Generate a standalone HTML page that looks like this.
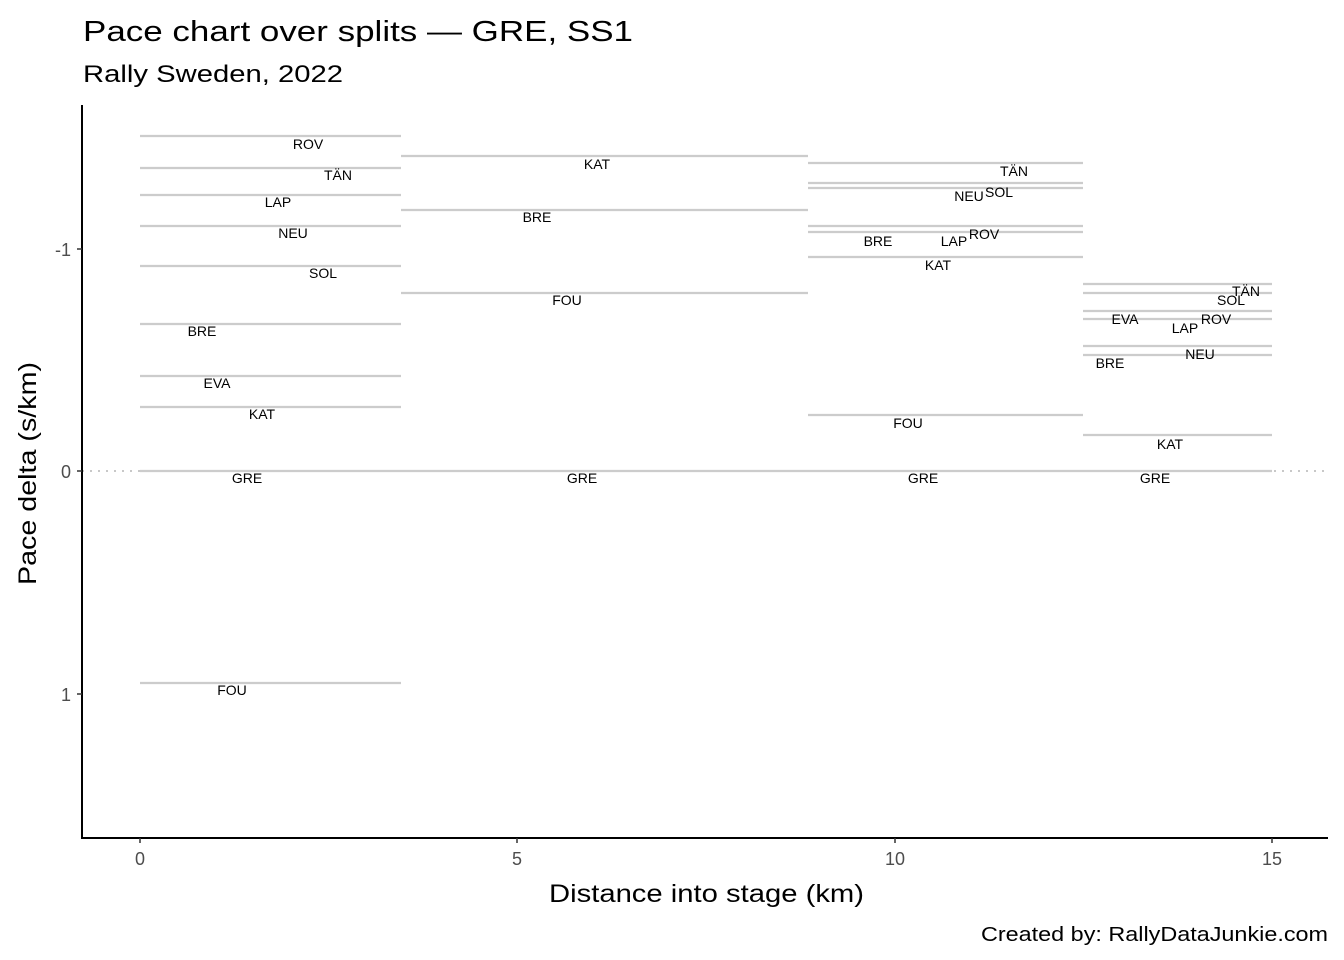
<!DOCTYPE html>
<html><head><meta charset="utf-8"><style>body{margin:0;background:#fff}svg{display:block;font-family:"Liberation Sans",sans-serif}</style></head>
<body>
<svg width="1344" height="960" xmlns="http://www.w3.org/2000/svg">
<rect width="1344" height="960" fill="#fff"/>
<text x="83" y="41" font-size="29" fill="#000" textLength="550" lengthAdjust="spacingAndGlyphs">Pace chart over splits — GRE, SS1</text>
<text x="83" y="82" font-size="24" fill="#000" textLength="260" lengthAdjust="spacingAndGlyphs">Rally Sweden, 2022</text>
<line x1="82" y1="471" x2="1328" y2="471" stroke="#c8c8c8" stroke-width="2" stroke-dasharray="2,6"/>
<g stroke="#cccccc" stroke-width="2.2">
<line x1="140" x2="401" y1="136" y2="136"/><line x1="140" x2="401" y1="168" y2="168"/>
<line x1="140" x2="401" y1="195" y2="195"/><line x1="140" x2="401" y1="226" y2="226"/>
<line x1="140" x2="401" y1="266" y2="266"/><line x1="140" x2="401" y1="324" y2="324"/>
<line x1="140" x2="401" y1="376" y2="376"/><line x1="140" x2="401" y1="407" y2="407"/>
<line x1="140" x2="401" y1="471" y2="471"/><line x1="140" x2="401" y1="683" y2="683"/>
<line x1="401" x2="808" y1="156" y2="156"/><line x1="401" x2="808" y1="210" y2="210"/>
<line x1="401" x2="808" y1="293" y2="293"/><line x1="401" x2="808" y1="471" y2="471"/>
<line x1="808" x2="1083" y1="163" y2="163"/><line x1="808" x2="1083" y1="183" y2="183"/>
<line x1="808" x2="1083" y1="188" y2="188"/><line x1="808" x2="1083" y1="226" y2="226"/>
<line x1="808" x2="1083" y1="232" y2="232"/><line x1="808" x2="1083" y1="257" y2="257"/>
<line x1="808" x2="1083" y1="415" y2="415"/><line x1="808" x2="1083" y1="471" y2="471"/>
<line x1="1083" x2="1272" y1="284" y2="284"/><line x1="1083" x2="1272" y1="293" y2="293"/>
<line x1="1083" x2="1272" y1="311" y2="311"/><line x1="1083" x2="1272" y1="319" y2="319"/>
<line x1="1083" x2="1272" y1="346" y2="346"/><line x1="1083" x2="1272" y1="355" y2="355"/>
<line x1="1083" x2="1272" y1="435" y2="435"/><line x1="1083" x2="1272" y1="471" y2="471"/>
</g>
<g font-size="14" text-anchor="middle" fill="#000">
<text x="308" y="149">ROV</text><text x="338" y="180">TÄN</text><text x="278" y="207">LAP</text>
<text x="293" y="238">NEU</text><text x="323" y="278">SOL</text><text x="202" y="336">BRE</text>
<text x="217" y="388">EVA</text><text x="262" y="419">KAT</text><text x="247" y="483">GRE</text>
<text x="232" y="695">FOU</text>
<text x="597" y="169">KAT</text><text x="537" y="222">BRE</text><text x="567" y="305">FOU</text><text x="582" y="483">GRE</text>
<text x="1014" y="176">TÄN</text><text x="999" y="197">SOL</text><text x="969" y="201">NEU</text>
<text x="984" y="239">ROV</text><text x="954" y="246">LAP</text><text x="878" y="246">BRE</text>
<text x="938" y="270">KAT</text><text x="908" y="428">FOU</text><text x="923" y="483">GRE</text>
<text x="1246" y="296">TÄN</text><text x="1231" y="305">SOL</text><text x="1216" y="324">ROV</text>
<text x="1185" y="333">LAP</text><text x="1125" y="324">EVA</text><text x="1200" y="359">NEU</text>
<text x="1110" y="368">BRE</text><text x="1170" y="449">KAT</text><text x="1155" y="483">GRE</text>
</g>
<g stroke="#000" stroke-width="2">
<line x1="82" y1="105" x2="82" y2="839"/><line x1="81" y1="838" x2="1328" y2="838"/>
</g>
<g stroke="#333" stroke-width="1.5">
<line x1="77" x2="82" y1="249" y2="249"/><line x1="77" x2="82" y1="471" y2="471"/><line x1="77" x2="82" y1="694" y2="694"/>
<line x1="140" x2="140" y1="838" y2="843"/><line x1="517" x2="517" y1="838" y2="843"/>
<line x1="895" x2="895" y1="838" y2="843"/><line x1="1272" x2="1272" y1="838" y2="843"/>
</g>
<g font-size="18" fill="#4d4d4d">
<text x="71" y="256" text-anchor="end">-1</text><text x="71" y="478" text-anchor="end">0</text><text x="71" y="701" text-anchor="end">1</text>
<text x="140" y="865" text-anchor="middle">0</text><text x="517" y="865" text-anchor="middle">5</text>
<text x="895" y="865" text-anchor="middle">10</text><text x="1272" y="865" text-anchor="middle">15</text>
</g>
<text x="549" y="902" font-size="25" textLength="315" lengthAdjust="spacingAndGlyphs">Distance into stage (km)</text>
<text transform="translate(36,585) rotate(-90)" font-size="25" textLength="223" lengthAdjust="spacingAndGlyphs">Pace delta (s/km)</text>
<text x="981" y="941" font-size="20" textLength="347" lengthAdjust="spacingAndGlyphs">Created by: RallyDataJunkie.com</text>
</svg>
</body></html>
